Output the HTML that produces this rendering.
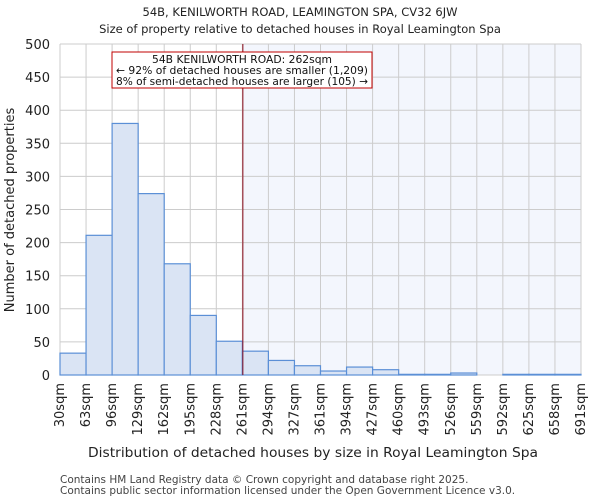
<!DOCTYPE html>
<html><head><meta charset="utf-8"><style>
body{margin:0;background:#fff;font-family:"DejaVu Sans","Liberation Sans",sans-serif}
</style></head><body>
<svg width="600" height="500" xmlns="http://www.w3.org/2000/svg" font-family="DejaVu Sans, Liberation Sans, sans-serif">
<g id="chart"></g>
</svg>
<script>
const categories=["30sqm","63sqm","96sqm","129sqm","162sqm","195sqm","228sqm","261sqm","294sqm","327sqm","361sqm","394sqm","427sqm","460sqm","493sqm","526sqm","559sqm","592sqm","625sqm","658sqm","691sqm"];
const counts=[33,211,380,274,168,90,51,36,22,14,6,12,8,1,1,3,0,1,1,1];
const yTicks=[0,50,100,150,200,250,300,350,400,450,500];
const propertySize=262;
const binStart=30, binWidth=33.05;
const L=60,R=581,T=44,B=375;
const n=counts.length;
const x=i=>L+(R-L)*i/n;
const xv=v=>L+(R-L)*(v-binStart)/(binWidth*n);
const y=v=>B-(B-T)*v/500;
const NS="http://www.w3.org/2000/svg";
const g=document.getElementById('chart');
function mk(t,a,txt){const e=document.createElementNS(NS,t);for(const k in a)e.setAttribute(k,a[k]);if(txt!==undefined)e.textContent=txt;g.appendChild(e);return e;}
const lx=xv(propertySize);
let e;
e=mk('rect',{x:lx,y:T,width:R-lx,height:B-T,fill:'#f3f6fd'});


for(let i=0;i<=n;i++){e=mk('line',{x1:x(i),x2:x(i),y1:T,y2:B,stroke:'#cccccc','stroke-width':1});

}
yTicks.forEach(v=>{e=mk('line',{x1:L,x2:R,y1:y(v),y2:y(v),stroke:'#cccccc','stroke-width':1});


e=mk('text',{x:L-10,y:y(v)+5,'text-anchor':'end','font-size':13,fill:'#222'},String(v));

});
counts.forEach((c,i)=>{e=mk('rect',{x:x(i),y:y(c),width:x(i+1)-x(i),height:B-y(c),fill:'#dae4f4',stroke:'#5b8fd6','stroke-width':1.2});

});
e=mk('line',{x1:lx,x2:lx,y1:T,y2:B,stroke:'#8b0a1a','stroke-width':1});


categories.forEach((c,i)=>{const tx=x(i)+4;e=mk('text',{x:tx,y:B+8,'text-anchor':'end','font-size':13,fill:'#222',transform:`rotate(-90 ${tx} ${B+8})`},c);

});
e=mk('rect',{x:112,y:52,width:260,height:36,fill:'#fff',stroke:'#c00000','stroke-width':1});


[["54B KENILWORTH ROAD: 262sqm",63],["← 92% of detached houses are smaller (1,209)",74],["8% of semi-detached houses are larger (105) →",85]].forEach(([t,yy])=>{e=mk('text',{x:242,y:yy,'text-anchor':'middle','font-size':10.8,fill:'#111','textLength':t.length>30?252:180,'lengthAdjust':'spacingAndGlyphs'},t);

});
e=mk('text',{x:300,y:16,'text-anchor':'middle','font-size':11.5,fill:'#222'},"54B, KENILWORTH ROAD, LEAMINGTON SPA, CV32 6JW");


e=mk('text',{x:300,y:33,'text-anchor':'middle','font-size':11.5,fill:'#222'},"Size of property relative to detached houses in Royal Leamington Spa");


e=mk('text',{x:313,y:457,'text-anchor':'middle','font-size':13,fill:'#222',textLength:450,lengthAdjust:'spacingAndGlyphs'},"Distribution of detached houses by size in Royal Leamington Spa");


e=mk('text',{x:14,y:210,'text-anchor':'middle','font-size':13,fill:'#222',transform:'rotate(-90 14 210)'},"Number of detached properties");


e=mk('text',{x:60,y:483,'font-size':10.5,fill:'#444'},"Contains HM Land Registry data © Crown copyright and database right 2025.");


e=mk('text',{x:60,y:494,'font-size':10.5,fill:'#444'},"Contains public sector information licensed under the Open Government Licence v3.0.");


</script>
</body></html>
